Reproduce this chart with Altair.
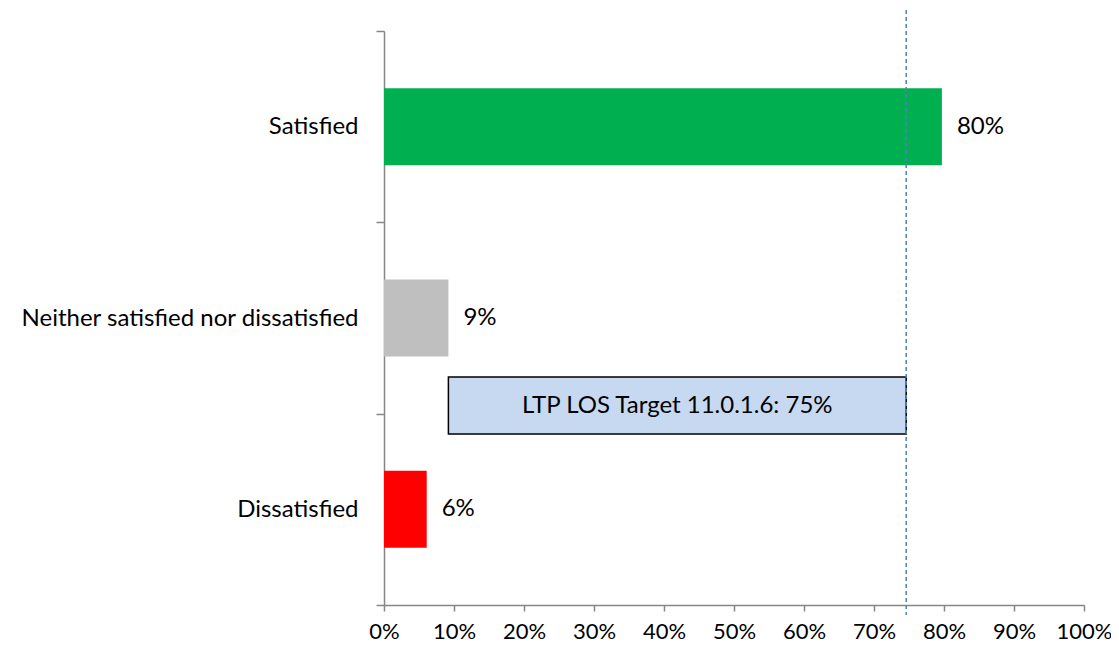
import altair as alt
import pandas as pd

categories = ["Satisfied", "Neither satisfied nor dissatisfied", "Dissatisfied"]
values = [0.797, 0.092, 0.061]
colors = ["#00B050", "#BFBFBF", "#FF0000"]
target = 0.746
box_start = 0.092
box_label = "LTP LOS Target 11.0.1.6: 75%"
x_ticks = [i / 10 for i in range(11)]

FONT = "Lato"
FS = 24
AXIS_COL = "#868686"

df = pd.DataFrame({"cat": categories, "val": values, "color": colors})
ann = pd.DataFrame({"start": [box_start], "end": [target], "label": [box_label],
                    "mid": [(box_start + target) / 2]})

W, H = 700, 574

xscale = alt.Scale(domain=[0, 1], nice=False)
yscale = alt.Scale(domain=categories, paddingInner=0, paddingOuter=0)

bars = alt.Chart(df).mark_bar(size=77).encode(
    x=alt.X("val:Q", scale=xscale,
            axis=alt.Axis(values=x_ticks, format=".0%", title=None, grid=False,
                          tickSize=6, labelPadding=10, labelFontSize=22, labelFont=FONT,
                          labelColor="black", domainColor=AXIS_COL, tickColor=AXIS_COL,
                          domainWidth=1.5, tickWidth=1.5, labelOverlap=False,
                          labelBound=False, labelFlush=False)),
    y=alt.Y("cat:N", scale=yscale, sort=categories,
            axis=alt.Axis(title=None, tickBand="extent", tickSize=8, labelPadding=18,
                          labelFontSize=FS, labelFont=FONT, labelColor="black",
                          labelLimit=0, labelOverlap=False,
                          domainColor=AXIS_COL, tickColor=AXIS_COL,
                          domainWidth=1.5, tickWidth=1.5)),
    color=alt.Color("color:N", scale=None),
)

labels = alt.Chart(df).mark_text(align="left", baseline="middle", dx=15,
                                  fontSize=FS, font=FONT, color="black").encode(
    x=alt.X("val:Q", scale=xscale),
    y=alt.Y("cat:N", scale=yscale, sort=categories),
    text=alt.Text("val:Q", format=".0%"),
)

box = alt.Chart(ann).mark_rect(fill="#C6D9F1", stroke="black", strokeWidth=1.5).encode(
    x=alt.X("start:Q", scale=xscale),
    x2="end:Q",
    y=alt.value(346),
    y2=alt.value(403),
)

box_text = alt.Chart(ann).mark_text(align="center", baseline="middle",
                                     fontSize=FS, font=FONT, color="black").encode(
    x=alt.X("mid:Q", scale=xscale),
    y=alt.value(374.5),
    text="label:N",
)

rule = alt.Chart(ann).mark_rule(color="#4F81BD", strokeDash=[4, 3], strokeWidth=1.5).encode(
    x=alt.X("end:Q", scale=xscale),
    y=alt.value(-21),
    y2=alt.value(584),
)

chart = alt.layer(bars, labels, box, box_text, rule).properties(
    width=W, height=H,
    autosize=alt.AutoSizeParams(type="none"),
    padding={"left": 376, "top": 23, "right": 27, "bottom": 40},
).configure(background="white").configure_view(stroke=None)

chart.save("out.html", embed_options={"renderer": "svg", "actions": False})
